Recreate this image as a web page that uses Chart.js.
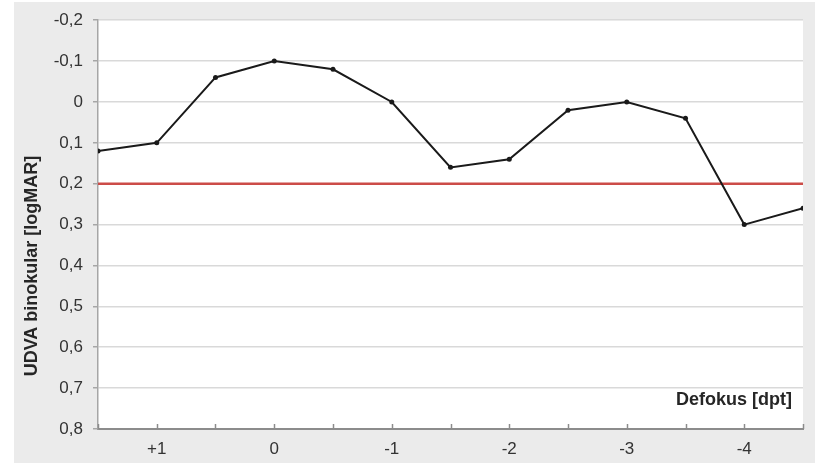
<!DOCTYPE html>
<html>
<head>
<meta charset="utf-8">
<script src="https://cdn.jsdelivr.net/npm/chart.js@4"></script>
<style>
  html, body { margin: 0; padding: 0; background: #fff; }
  canvas { display: block; }
</style>
</head>
<body>
<canvas id="defocusChart" width="819" height="463"></canvas>
<script>
// defocus curve, binocular UDVA
const defocus = [1.5, 1, 0.5, 0, -0.5, -1, -1.5, -2, -2.5, -3, -3.5, -4, -4.5];
const udva = [0.12, 0.10, -0.06, -0.10, -0.08, 0.00, 0.16, 0.14, 0.02, 0.00, 0.04, 0.30, 0.26];

// reference line at 0.2 logMAR
const refX = [1.5, -4.5];
const refY = [0.2, 0.2];

const yTitle = "UDVA binokular [logMAR]";
const xTitle = "Defokus [dpt]";

const FONT = "'Liberation Sans', Arial, sans-serif";

const panel = {
    id: "panel",
    beforeDraw(chart) {
        const { ctx, chartArea: a } = chart;
        ctx.save();
        ctx.fillStyle = "#ffffff";
        ctx.fillRect(0, 0, chart.width, chart.height);
        ctx.fillStyle = "#ebebeb";
        ctx.fillRect(14, 2, 801, 461);
        ctx.fillStyle = "#ffffff";
        ctx.fillRect(a.left, a.top, a.right - a.left, a.bottom - a.top);
        ctx.restore();
    },
    afterDraw(chart) {
        const { ctx, chartArea: a, scales } = chart;
        ctx.save();

        // tick marks on the x axis point up into the plot
        ctx.strokeStyle = "#8c8c8c";
        ctx.lineWidth = 1.5;
        scales.x.ticks.forEach(t => {
            const px = Math.round(scales.x.getPixelForValue(t.value)) + 0.5;
            ctx.beginPath();
            ctx.moveTo(px, a.bottom);
            ctx.lineTo(px, a.bottom - 5);
            ctx.stroke();
        });

        ctx.fillStyle = "#262626";
        ctx.font = "bold 18px " + FONT;

        ctx.textAlign = "right";
        ctx.textBaseline = "middle";
        ctx.fillText(xTitle, 792, 400);

        ctx.translate(32, 266);
        ctx.rotate(-Math.PI / 2);
        ctx.textAlign = "center";
        ctx.fillText(yTitle, 0, 0);

        ctx.restore();
    }
};

new Chart(document.getElementById("defocusChart"), {

    type: "line",

    data: {
        datasets: [
            {
                data: defocus.map((x, i) => ({ x: x, y: udva[i] })),
                borderColor: "#1a1a1a",
                borderWidth: 2,
                pointRadius: 2.5,
                pointBackgroundColor: "#1a1a1a",
                pointBorderWidth: 0,
                tension: 0,
                order: 1
            },
            {
                data: refX.map((x, i) => ({ x: x, y: refY[i] })),
                borderColor: "#cc4c48",
                borderWidth: 2.5,
                pointRadius: 0,
                order: 2
            }
        ]
    },

    options: {
        responsive: false,
        animation: false,
        layout: {
            padding: { top: 19, right: 16, left: 0, bottom: 0 }
        },
        plugins: {
            legend: { display: false },
            tooltip: { enabled: false }
        },
        scales: {
            x: {
                type: "linear",
                reverse: true,
                min: -4.5,
                max: 1.5,
                afterFit: s => { s.height = 34; },
                grid: { display: true, drawOnChartArea: false, drawTicks: false },
                border: { display: true, color: "#8c8c8c", width: 2 },
                ticks: {
                    stepSize: 0.5,
                    autoSkip: false,
                    maxRotation: 0,
                    padding: 10,
                    color: "#333",
                    font: { family: FONT, size: 17 },
                    callback: v => {
                        if (!Number.isInteger(v)) return "";
                        if (v > 0) return "+" + v;
                        return String(v);
                    }
                }
            },
            y: {
                reverse: true,
                min: -0.2,
                max: 0.8,
                afterFit: s => { s.width = 98; },
                grid: {
                    color: "#d9d9d9",
                    lineWidth: 1.5,
                    tickLength: 5,
                    tickColor: "#a6a6a6"
                },
                border: { display: true, color: "#a6a6a6", width: 1.5 },
                ticks: {
                    stepSize: 0.1,
                    padding: 10,
                    color: "#333",
                    font: { family: FONT, size: 17 },
                    callback: v => Math.abs(v) < 1e-9 ? "0" : v.toFixed(1).replace(".", ",")
                }
            }
        }
    },

    plugins: [panel]

});
</script>
</body>
</html>
